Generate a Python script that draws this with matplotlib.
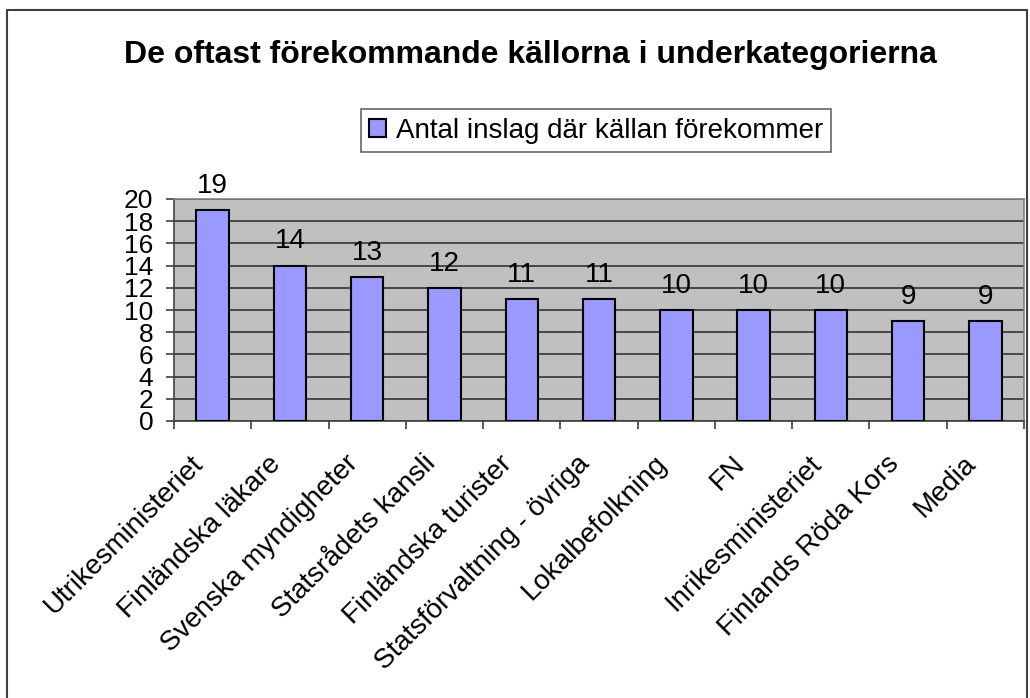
import numpy as np
import matplotlib.pyplot as plt
from matplotlib.patches import Rectangle

categories = ["Utrikesministeriet", "Finländska läkare", "Svenska myndigheter",
              "Statsrådets kansli", "Finländska turister", "Statsförvaltning - övriga",
              "Lokalbefolkning", "FN", "Inrikesministeriet", "Finlands Röda Kors", "Media"]
values = [19, 14, 13, 12, 11, 11, 10, 10, 10, 9, 9]
series_name = "Antal inslag där källan förekommer"
title = "De oftast förekommande källorna i underkategorierna"

plt.rcParams['font.family'] = ['Liberation Sans', 'DejaVu Sans']

fig = plt.figure(figsize=(10.30, 6.98), dpi=100)
ax = fig.add_axes([174/1030, 1 - 421/698, 850/1030, 222/698])

# outer chart border
fig.patches.append(Rectangle((7/1030, -0.05), 1020/1030, 1.05 - 10/698,
                             transform=fig.transFigure, fill=False,
                             edgecolor='#404040', linewidth=1.5, clip_on=False))

x = np.arange(len(categories))
bars = ax.bar(x, values, width=0.42, color='#9999FF', edgecolor='black',
              linewidth=1.5, label=series_name, zorder=3)

for xi, v in zip(x, values):
    ax.annotate(str(v), (xi, v), xytext=(0, 8), textcoords='offset points',
                ha='center', va='bottom', fontsize=20)

ax.set_facecolor('#C0C0C0')
ax.set_xlim(-0.5, len(categories) - 0.5)
ax.set_ylim(0, 20)
ax.set_yticks(range(0, 21, 2))
ax.yaxis.grid(True, color='#333333', linewidth=1.2, zorder=1)
ax.set_axisbelow(True)
for s in ['top', 'right']:
    ax.spines[s].set_color('#808080')
for s in ['left', 'bottom']:
    ax.spines[s].set_color('#404040')
for s in ax.spines.values():
    s.set_linewidth(1.2)

ax.set_xticks(np.arange(-0.5, len(categories), 1), minor=False)
ax.set_xticklabels([])
ax.tick_params(axis='x', length=6, color='#404040', width=1.2)
ax.tick_params(axis='y', length=6, color='#404040', width=1.2, labelsize=19, pad=9)

for xi, c in zip(x, categories):
    ax.text(xi - 0.17, -3.5, c, rotation=45, rotation_mode='anchor',
            ha='right', va='center', fontsize=20, transform=ax.transData)

fig.text(530/1030, 1 - 55/698, title, ha='center', va='center',
         fontsize=23, fontweight='bold')

leg = fig.legend(handles=[bars], labels=[series_name], loc='center',
                 bbox_to_anchor=(596/1030, 1 - 130.5/698), fontsize=20,
                 frameon=True, fancybox=False, handlelength=0.6, handleheight=0.6,
                 handletextpad=0.35, borderpad=0.3, borderaxespad=0)
leg.get_frame().set_edgecolor('#404040')
leg.get_frame().set_linewidth(1.2)

fig.savefig('out.png', dpi=100)
